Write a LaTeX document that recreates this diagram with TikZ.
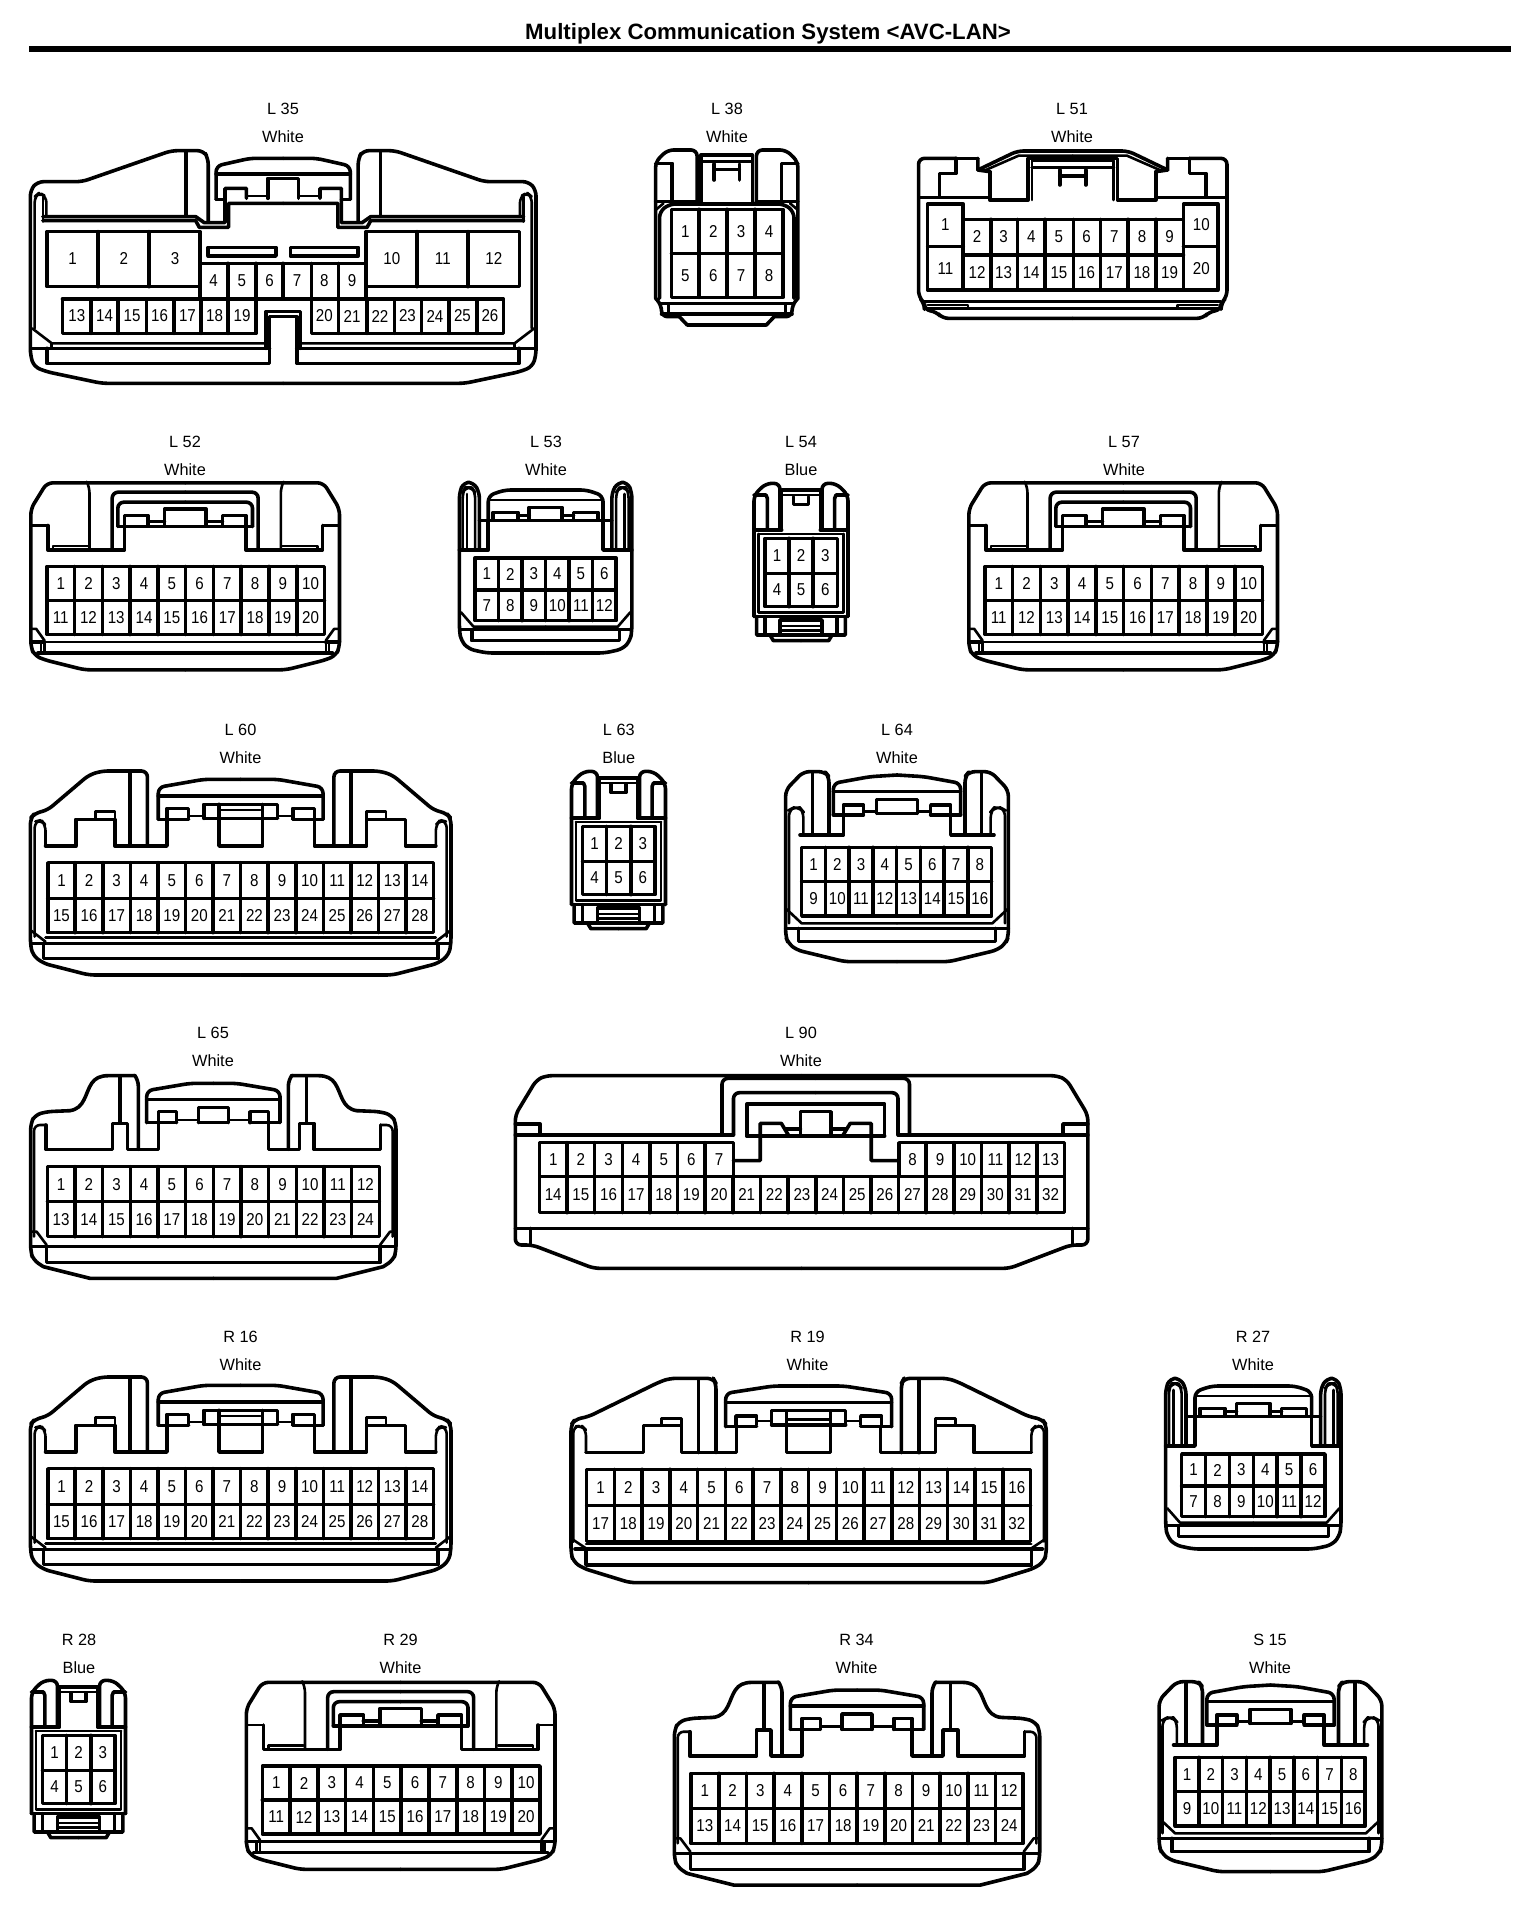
\documentclass[tikz,border=0pt]{standalone}
\usepackage{fontspec}
\setmainfont{Liberation Sans}
\newfontfamily\pinf[FakeStretch=0.88]{Liberation Sans}
\tikzset{
 tk/.style={line width=1.8pt,line join=round,line cap=round},
 tn/.style={line width=1.3pt,line join=round,line cap=round},
 rc/.style={rounded corners=3pt},
 pinlabel/.style={font=\pinf\fontsize{8.6}{10}\selectfont,inner sep=0pt},
 caplabel/.style={font=\fontsize{8.15}{10}\selectfont,inner sep=0pt},
 titlelabel/.style={font=\bfseries\fontsize{11.1}{12}\selectfont,inner sep=0pt},
}
\newcommand\place[4]{\begin{scope}[shift={(#1,#2)},xscale=1/#3,yscale=1/3]#4\end{scope}}
\newcommand\both[2]{#2\begin{scope}[shift={(2*#1,0)},xscale=-1]#2\end{scope}}
% two-row grid: prefix, xL,xR,yT,yM,yB,n,first
\newcommand\grid[8]{%
 \draw[tk] (#2,#4) rectangle (#3,#6);
 \draw[tk] (#2,#5) -- (#3,#5);
 \pgfmathtruncatemacro\gridlast{#7-1}
 \foreach \i in {1,...,\gridlast}{\draw[tk] ({#2+(\i/#7)*(#3-#2)},#4) -- ({#2+(\i/#7)*(#3-#2)},#6);}
 \foreach \i in {1,...,#7}{
  \pgfmathtruncatemacro\na{#8+\i-1}
  \pgfmathtruncatemacro\nb{#8+#7+\i-1}
  \node[pinlabel] (#1-\na) at ({#2+((\i-.5)/#7)*(#3-#2)},{(#4+#5)/2}) {\na};
  \node[pinlabel] (#1-\nb) at ({#2+((\i-.5)/#7)*(#3-#2)},{(#5+#6)/2}) {\nb};
 }}
\newcommand\caplab[5]{%
 \node[caplabel] (#1-id) at (#2,#3) {#4};
 \node[caplabel] (#1-col) at (#2,#3+27.7) {#5};}
% ---------- shapes
\newcommand\shapeSixty[1]{%
 \both{555}{
 \draw[tk,rc] (555,795) -- (205,795) -- (100,760) -- (75,735) -- (70,700) -- (70,325) -- (80,310) -- (110,300) -- (205,195) -- (235,183) -- (340,183) -- (340,408);
 \draw[tn,rc] (80,680) -- (80,335) -- (95,330) -- (105,345) -- (105,408);
 \draw[tk] (105,408) -- (175,408) -- (175,328) -- (220,328) -- (265,328) -- (265,408) -- (385,408) -- (385,295) -- (435,295) -- (435,325);
 \draw[tn] (220,328) -- (220,305) -- (265,305) -- (265,328);
 \draw[tk] (300,190) -- (300,408);
 \draw[tn] (435,318) -- (470,318);
 \draw[tk] (470,325) -- (470,283) -- (555,283);
 \draw[tk] (505,283) -- (505,408) -- (555,408);
 \draw[tn] (510,300) -- (555,300);
 \draw[tk,rc] (365,328) -- (365,232) -- (470,208) -- (555,208);
 \draw[tk] (365,258) -- (555,258);
 \draw[tk] (365,328) -- (435,328);
 \draw[tk] (470,325) -- (555,325);
 \draw[tn] (70,660) -- (105,695);
 \draw[tn] (105,683) -- (555,683);
 \draw[tk] (80,700) -- (555,700);
 \draw[tn] (70,700) -- (100,700);
 \draw[tk] (100,700) -- (100,745) -- (555,745);
 }
 \grid{#1}{110}{1000}{458}{565}{668}{14}{1}}
\newcommand\shapeFiftyTwo[1]{%
 \both{512}{
 \draw[tk,rc] (512,628) -- (210,628) -- (90,598) -- (60,585) -- (49,560) -- (49,145) -- (97,67) -- (512,67);
 \draw[tn] (49,195) -- (100,195);
 \draw[tk] (100,195) -- (100,268) -- (330,268) -- (330,200);
 \draw[tk] (310,198) -- (512,198);
 \draw[tk,rc] (310,198) -- (310,125) -- (512,125);
 \draw[tk] (330,198) -- (330,165) -- (400,165) -- (400,195);
 \draw[tk] (400,183) -- (450,183);
 \draw[tk] (450,195) -- (450,145) -- (512,145);
 \draw[tn,rc] (220,70) -- (225,80) -- (225,268);
 \draw[tk,rc] (293,268) -- (293,95) -- (512,95);
 \draw[tn] (115,268) -- (115,256) -- (220,256);
 \draw[tn] (49,505) -- (65,505) -- (90,540);
 \draw[tn] (90,545) -- (512,545);
 \draw[tn] (80,545) -- (80,578);
 \draw[tn] (90,545) -- (90,578);
 \draw[tk] (49,545) -- (90,545);
 \draw[tk] (70,578) -- (512,578);
 }
 \grid{#1}{97}{930}{318}{420}{522}{10}{1}}
\newcommand\shapeFiftyThree[1]{%
 \both{310}{
 \draw[tk,rc] (310,567) -- (130,567) -- (75,555) -- (52,530) -- (47,500) -- (47,85) -- (60,55) -- (90,55) -- (108,85) -- (108,258);
 \draw[tn,rc] (57,258) -- (57,85) -- (65,70) -- (85,70) -- (95,85) -- (95,258);
 \draw[tn] (70,90) -- (70,258);
 \draw[tk] (108,170) -- (310,170);
 \draw[tk,rc] (135,170) -- (135,95) -- (185,78) -- (310,78);
 \draw[tn] (135,108) -- (310,108);
 \draw[tk] (150,168) -- (150,145) -- (225,145) -- (225,168);
 \draw[tk] (225,155) -- (260,155);
 \draw[tk] (260,168) -- (260,130) -- (310,130);
 \draw[tk] (135,170) -- (135,258) -- (47,258);
 \draw[tn] (52,445) -- (90,488) -- (310,488);
 \draw[tk] (52,497) -- (310,497);
 \draw[tk] (85,497) -- (85,530) -- (310,530);
 }
 \grid{#1}{95}{525}{282}{378}{470}{6}{1}}
\newcommand\shapeFiftyFour[1]{%
 \both{213}{
 \draw[tk,rc] (72,440) -- (72,75) -- (108,40) -- (150,40) -- (150,180);
 \draw[tk] (72,75) -- (108,75) -- (112,85) -- (112,180);
 \draw[tk] (72,180) -- (155,180);
 \draw[tn] (85,192) -- (213,192);
 \draw[tn] (85,192) -- (85,428) -- (213,428);
 \draw[tk] (72,440) -- (213,440);
 \draw[tk] (80,440) -- (80,495) -- (120,495) -- (130,512) -- (213,512);
 \draw[tk] (105,440) -- (105,495);
 \draw[tk] (150,495) -- (150,450) -- (213,450);
 \draw[tk] (120,495) -- (213,495);
 \draw[tn] (150,468) -- (213,468);
 \draw[tn] (150,482) -- (213,482);
 \draw[tk] (155,180) -- (155,60) -- (213,60);
 \draw[tn] (155,75) -- (213,75);
 \draw[tk] (190,80) -- (190,103) -- (213,103);
 }
 \grid{#1}{105}{322}{205}{310}{410}{3}{1}}
\newcommand\shapeSixtyFour[1]{%
 \both{381}{
 \draw[tk,rc] (381,605) -- (225,605) -- (80,570) -- (55,550) -- (47,530) -- (47,90) -- (100,35) -- (165,35) -- (177,50) -- (177,225);
 \draw[tn,rc] (57,490) -- (57,150) -- (70,143) -- (90,143) -- (100,155) -- (100,225);
 \draw[tk] (128,40) -- (128,225);
 \draw[tk] (90,225) -- (220,225) -- (220,135) -- (280,135) -- (280,160);
 \draw[tn] (280,155) -- (320,155);
 \draw[tk] (320,160) -- (320,118) -- (381,118);
 \draw[tk,rc] (190,165) -- (190,70) -- (300,50) -- (381,45);
 \draw[tk] (190,95) -- (381,95);
 \draw[tk] (190,165) -- (280,165);
 \draw[tk] (320,160) -- (381,160);
 \draw[tn] (47,445) -- (95,490) -- (381,490);
 \draw[tk] (47,505) -- (381,505);
 \draw[tk] (85,505) -- (85,545) -- (381,545);
 }
 \grid{#1}{95}{665}{262}{365}{468}{8}{1}}
\newcommand\shapeSixtyFive[1]{%
 \both{580}{
 \draw[tk] (580,655) -- (210,655) -- (70,620);
 \draw[tk,rc] (70,620) -- (40,600) -- (32,575) -- (32,190) -- (45,165) -- (80,155) -- (150,152);
 \draw[tk] (150,152) .. controls (195,145) and (195,100) .. (215,70) .. controls (225,55) and (240,47) .. (265,47) -- (345,47);
 \draw[tk,rc] (345,47) -- (355,60) -- (355,268);
 \draw[tn,rc] (42,530) -- (42,195) -- (78,195);
 \draw[tk] (78,195) -- (78,268) -- (278,268) -- (278,190) -- (322,190) -- (322,268) -- (415,268) -- (415,155) -- (470,155) -- (470,188);
 \draw[tn] (470,180) -- (535,180);
 \draw[tk] (535,188) -- (535,142) -- (580,142);
 \draw[tk] (300,50) -- (300,188);
 \draw[tk,rc] (380,188) -- (380,92) -- (510,70) -- (580,70);
 \draw[tk] (380,118) -- (580,118);
 \draw[tk] (380,188) -- (470,188);
 \draw[tk] (535,188) -- (580,188);
 \draw[tn] (32,515) -- (50,515) -- (80,555);
 \draw[tk] (35,560) -- (580,560);
 \draw[tk] (80,560) -- (80,608) -- (580,608);
 }
 \grid{#1}{82}{1078}{320}{425}{530}{12}{1}}
\begin{document}
\begin{tikzpicture}[x=0.5pt,y=-0.5pt]
\useasboundingbox (0,0) rectangle (1536,1910);
\fill[white] (0,0) rectangle (1536,1910);
\node[titlelabel] (title) at (768,34) {Multiplex Communication System <AVC-LAN>};
\coordinate (ruleL) at (29,49); \coordinate (ruleR) at (1507,49);
\coordinate (ruleR) at (1511,49);
\draw[line width=2.6pt] (ruleL) -- (ruleR);
% captions
\caplab{L35}{283}{109}{L 35}{White}
\caplab{L38}{727}{109}{L 38}{White}
\caplab{L51}{1072}{109}{L 51}{White}
\caplab{L52}{185}{442}{L 52}{White}
\caplab{L53}{546}{442}{L 53}{White}
\caplab{L54}{801}{442}{L 54}{Blue}
\caplab{L57}{1124}{442}{L 57}{White}
\caplab{L60}{240.5}{730}{L 60}{White}
\caplab{L63}{618.8}{730}{L 63}{Blue}
\caplab{L64}{897}{730}{L 64}{White}
\caplab{L65}{213}{1033}{L 65}{White}
\caplab{L90}{801}{1033}{L 90}{White}
\caplab{R16}{240.5}{1337}{R 16}{White}
\caplab{R19}{807.5}{1337}{R 19}{White}
\caplab{R27}{1253}{1337}{R 27}{White}
\caplab{R28}{79}{1639.5}{R 28}{Blue}
\caplab{R29}{400.5}{1639.5}{R 29}{White}
\caplab{R34}{856.5}{1639.5}{R 34}{White}
\caplab{S15}{1270}{1639.5}{S 15}{White}
% L35
\place{0}{0}{2.8}{
 \both{793}{
 \draw[tk,rc] (793,1150) -- (285,1150) -- (130,1115) -- (95,1100) -- (85,1065) -- (85,570) -- (105,545) -- (230,545) -- (480,452) -- (570,452) -- (583,475) -- (583,665);
 \draw[tn,rc] (97,985) -- (97,590) -- (110,578) -- (130,590) -- (130,650);
 \draw[tn] (120,590) -- (120,665);
 \draw[tk] (520,455) -- (520,648);
 \draw[tk] (120,650) -- (548,650) -- (572,668) -- (630,668) -- (630,565) -- (690,565) -- (690,595);
 \draw[tk] (120,662) -- (548,662) -- (558,682) -- (640,682) -- (640,610) -- (793,610);
 \draw[tn] (690,588) -- (750,588);
 \draw[tk] (750,595) -- (750,535) -- (793,535);
 \draw[tk,rc] (605,598) -- (605,498) -- (700,475) -- (793,475);
 \draw[tk] (605,522) -- (793,522);
 \draw[tk] (605,598) -- (630,598);
 \draw[tk] (583,742) rectangle (773,768);
 \draw[tn] (90,985) -- (145,1030) -- (745,1030);
 \draw[tk] (90,1045) -- (755,1045);
 \draw[tk] (132,1045) -- (132,1090) -- (755,1090) -- (755,950) -- (793,950);
 \draw[tk] (745,1045) -- (745,935) -- (793,935);
 \draw[tn] (145,1030) -- (145,1045);
 }
 \draw[tk] (132,695) rectangle (560,860);
 \draw[tk] (275,695) -- (275,860) (418,695) -- (418,860);
 \draw[tk] (1025,695) rectangle (1455,860);
 \draw[tk] (1168,695) -- (1168,860) (1310,695) -- (1310,860);
 \draw[tk] (560,790) -- (1025,790);
 \draw[tk] (175,897) -- (175,1000) -- (717,1000) -- (717,790);
 \draw[tk] (175,897) -- (717,897) (872,897) -- (1410,897) -- (1410,1000) -- (872,1000) -- (872,790);
 \draw[tk] (717,897) -- (872,897);
 \foreach \xx in {255,330,410,487,563,638} {\draw[tk] (\xx,897) -- (\xx,1000);}
 \foreach \xx in {948,1027,1105,1180,1258,1335} {\draw[tk] (\xx,897) -- (\xx,1000);}
 \foreach \xx in {560,638,793,948,1025} {\draw[tk] (\xx,790) -- (\xx,897);}
 \foreach \xx/\n in {203/1,347/2,490/3,1097/10,1240/11,1383/12} {\node[pinlabel] (L35-\n) at (\xx,775) {\n};}
 \foreach \xx/\n in {598/4,677/5,755/6,832/7,908/8,986/9} {\node[pinlabel] (L35-\n) at (\xx,843) {\n};}
 \foreach \xx/\n in {215/13,293/14,370/15,447/16,525/17,601/18,678/19,908/20,986/21,1064/22,1141/23,1218/24,1295/25,1372/26} {\node[pinlabel] (L35-\n) at (\xx,948) {\n};}
}
% L38
\place{620}{90}{2.529}{
 \both{270}{
 \draw[tk,rc] (90,625) -- (90,215) -- (120,180) -- (195,180) -- (195,340);
 \draw[tk] (90,220) -- (132,220) -- (132,335);
 \draw[tk] (90,335) -- (195,335);
 \draw[tn] (90,360) -- (110,340);
 \draw[tk,rc] (100,625) -- (100,365) -- (125,342) -- (270,342);
 \draw[tk,rc] (90,625) -- (105,645) -- (105,680) -- (150,680);
 \draw[tk] (150,680) -- (170,705) -- (270,705);
 \draw[tn] (122,645) -- (122,672);
 \draw[tk] (100,640) -- (270,640);
 \draw[tk] (105,672) -- (270,672);
 \draw[tk] (205,340) -- (205,195) -- (270,195);
 \draw[tn] (205,215) -- (270,215);
 \draw[tk] (238,222) -- (238,270);
 \draw[tk] (238,238) -- (270,238);
 }
 \grid{L38}{130}{412}{358}{490}{622}{4}{1}
}
% L51
\place{620}{90}{2.529}{
 \both{1145}{
 \draw[tk,rc] (1145,685) -- (815,685) -- (800,665) -- (770,660) -- (770,640) -- (755,620) -- (755,205) -- (850,205);
 \draw[tk] (850,205) -- (905,205);
 \draw[tk] (850,205) -- (850,250) -- (808,250) -- (808,318);
 \draw[tn] (755,322) -- (935,322);
 \draw[tk,rc] (905,240) -- (1005,183) -- (1145,183);
 \draw[tk] (905,205) -- (905,240) -- (935,245);
 \draw[tn] (925,240) -- (1008,197) -- (1145,197);
 \draw[tk] (935,245) -- (935,330) -- (1032,330) -- (1032,205) -- (1145,205);
 \draw[tn] (1042,330) -- (1042,212) -- (1145,212);
 \draw[tk] (1042,232) -- (1145,232);
 \draw[tk] (1112,240) -- (1112,285);
 \draw[tk] (1112,258) -- (1145,258);
 \draw[tk] (770,635) -- (1145,635);
 \draw[tn] (778,645) -- (880,645) -- (880,652);
 \draw[tk] (770,655) -- (1145,655);
 }
 \draw[tk] (778,342) -- (868,342) -- (868,388) -- (1425,388) -- (1425,342) -- (1512,342) -- (1512,600) -- (778,600) -- cycle;
 \draw[tk] (778,470) -- (868,470) (1425,470) -- (1512,470) (868,495) -- (1425,495);
 \foreach \xx in {868,938,1005,1075,1147,1215,1285,1355,1425} {\draw[tk] (\xx,388) -- (\xx,600);}
 \node[pinlabel] (L51-1) at (823,405) {1};
 \node[pinlabel] (L51-11) at (823,535) {11};
 \node[pinlabel] (L51-10) at (1470,405) {10};
 \node[pinlabel] (L51-20) at (1470,535) {20};
 \foreach \xx/\n/\m in {903/2/12,970/3/13,1040/4/14,1110/5/15,1180/6/16,1250/7/17,1320/8/18,1390/9/19} {
  \node[pinlabel] (L51-\n) at (\xx,440) {\n};
  \node[pinlabel] (L51-\m) at (\xx,548) {\m};}
}
% L52 L57 R29
\place{14.5}{460.5}{3}{\shapeFiftyTwo{L52}}
\place{952.5}{460.5}{3}{\shapeFiftyTwo{L57}}
\place{230}{1660}{3}{\shapeFiftyTwo{R29}}
% L53 R27
\place{444}{464}{3.05}{\shapeFiftyThree{L53}}
\place{1150}{1360}{3}{\shapeFiftyThree{R27}}
% L54 L63 R28
\place{730}{470}{3}{\shapeFiftyFour{L54}}
\place{547.5}{758}{3}{\shapeFiftyFour{L63}}
\place{7.5}{1667}{3}{\shapeFiftyFour{R28}}
% L60 R16
\place{0}{710}{2.306}{\shapeSixty{L60}}
\place{0}{1316}{2.306}{\shapeSixty{R16}}
% L64 S15
\place{770}{760}{3}{\shapeSixtyFour{L64}}
\place{1143.5}{1670}{3}{\shapeSixtyFour{S15}}
% L65 R34
\place{20}{1060}{3}{\shapeSixtyFive{L65}}
\place{663.7}{1666.7}{3}{\shapeSixtyFive{R34}}
% L90
\place{500}{1010}{2.613}{
 \both{788}{
 \draw[tk,rc] (788,775) -- (245,775) -- (85,705) -- (40,705) -- (40,315) -- (95,210) -- (120,197) -- (788,197);
 \draw[tk] (40,342) -- (105,342) -- (105,375);
 \draw[tk] (40,375) -- (105,375);
 \draw[tk] (40,655) -- (788,655);
 \draw[tk] (80,655) -- (80,705);
 }
 \draw[tk] (105,375) -- (610,375) (1040,375) -- (1471,375);
 \both{825}{
 \draw[tk,rc] (610,375) -- (610,248) -- (825,248);
 \draw[tk,rc] (580,375) -- (580,205) -- (825,205);
 \draw[tk] (645,378) -- (645,282) -- (825,282);
 \draw[tk] (645,378) -- (825,378);
 \draw[tk] (610,452) -- (680,452) -- (680,340) -- (735,340) -- (755,378);
 \draw[tk] (745,357) -- (785,357);
 \draw[tk] (785,378) -- (785,305) -- (825,305);
 }
 \draw[tk] (103,500) rectangle (1475,608);
 \draw[tk] (103,398) rectangle (610,500);
 \draw[tk] (1042,398) rectangle (1475,500);
 \foreach \i in {1,...,18} {\draw[tk] ({103+\i*72.2},500) -- ({103+\i*72.2},608);}
 \foreach \i in {1,...,6} {\draw[tk] ({103+\i*72.2},398) -- ({103+\i*72.2},500);}
 \foreach \i in {14,...,18} {\draw[tk] ({103+\i*72.2},398) -- ({103+\i*72.2},500);}
 \foreach \i in {1,...,7} {\node[pinlabel] (L90-\i) at ({103+(\i-.5)*72.2},449) {\i};}
 \foreach \i in {14,...,19} {\pgfmathtruncatemacro\nn{\i-6}\node[pinlabel] (L90-\nn) at ({103+(\i-.5)*72.2},449) {\nn};}
 \foreach \i in {1,...,19} {\pgfmathtruncatemacro\nn{\i+13}\node[pinlabel] (L90-\nn) at ({103+(\i-.5)*72.2},554) {\nn};}
}
% R19
\place{560}{1360}{3}{
 \both{746}{
 \draw[tk,rc] (746,668) -- (210,668) -- (70,625) -- (40,605) -- (33,580) -- (33,195) -- (45,178) -- (85,170) -- (300,65) -- (330,55) -- (460,55) -- (468,70) -- (468,278);
 \draw[tn,rc] (40,545) -- (40,200) -- (65,197) -- (78,210) -- (78,278);
 \draw[tk] (78,278) -- (250,278) -- (250,197) -- (305,197) -- (365,197) -- (365,278) -- (530,278) -- (530,200);
 \draw[tn] (305,197) -- (305,175) -- (365,175) -- (365,197);
 \draw[tk] (415,60) -- (415,278);
 \draw[tk,rc] (497,200) -- (497,100) -- (640,78) -- (746,78);
 \draw[tk] (497,128) -- (746,128);
 \draw[tk] (497,200) -- (590,200);
 \draw[tk] (528,195) -- (528,168) -- (590,168) -- (590,195);
 \draw[tn] (590,183) -- (635,183);
 \draw[tk] (635,195) -- (635,152) -- (746,152);
 \draw[tk] (635,195) -- (746,195);
 \draw[tk] (680,155) -- (680,278) -- (746,278);
 \draw[tn] (680,178) -- (746,178);
 \draw[tn] (33,535) -- (78,565);
 \draw[tn] (78,552) -- (746,552);
 \draw[tk] (45,567) -- (746,567);
 \draw[tk] (78,567) -- (78,615) -- (746,615);
 }
 \grid{R19}{80}{1412}{328}{437}{545}{16}{1}
}
\end{tikzpicture}
\end{document}
